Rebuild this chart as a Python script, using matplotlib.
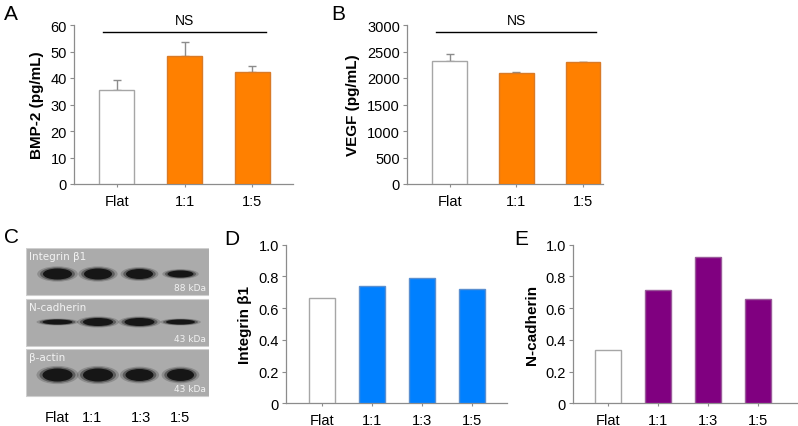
import matplotlib
matplotlib.use("Agg")
import matplotlib.pyplot as plt
from matplotlib.patches import Ellipse, Rectangle
import numpy as np

plt.rcParams["font.family"] = ["Liberation Sans", "DejaVu Sans"]
plt.rcParams["font.size"] = 10

# ---- data ----
groups3 = ["Flat", "1:1", "1:5"]
groups4 = ["Flat", "1:1", "1:3", "1:5"]

bmp2 = [35.5, 48.3, 42.3]
bmp2_err = [3.7, 5.2, 2.1]

vegf = [2330, 2090, 2298]
vegf_err = [120, 15, 12]

integrin = [0.664, 0.740, 0.790, 0.723]
ncadherin = [0.334, 0.714, 0.924, 0.656]

# blot: band thickness (px) per lane, per protein
blot_proteins = ["Integrin \u03b21", "N-cadherin", "\u03b2-actin"]
blot_kda = ["88 kDa", "43 kDa", "43 kDa"]
blot_bands = [[11, 11, 10, 7],
              [5, 8, 8, 5],
              [13, 13, 12, 12]]
blot_widths = [[29, 28, 27, 26],
               [30, 30, 30, 29],
               [30, 30, 28, 27]]

W, H = 798, 427
fig = plt.figure(figsize=(W / 100, H / 100), dpi=100)


def add_ax(x0, x1, y0, y1):
    return fig.add_axes([x0 / W, 1 - y1 / H, (x1 - x0) / W, (y1 - y0) / H])


AXC = "#8c8c8c"


def style(ax):
    for s in ["top", "right"]:
        ax.spines[s].set_visible(False)
    for s in ["left", "bottom"]:
        ax.spines[s].set_color(AXC)
        ax.spines[s].set_linewidth(0.9)
    ax.tick_params(axis="both", colors=AXC, labelcolor="black", length=3, width=0.8, labelsize=10.5)
    ax.tick_params(axis="y", pad=2)
    ax.tick_params(axis="x", length=2, pad=5)


def bars(ax, labels, vals, color, edge, err=None):
    x = np.arange(len(labels))
    fc = ["white"] + [color] * (len(labels) - 1)
    ec = ["#a6a6a6"] + [edge] * (len(labels) - 1)
    ax.bar(x, vals, width=0.52, color=fc, edgecolor=ec, linewidth=1.0, zorder=3)
    if err is not None:
        ax.errorbar(x, vals, yerr=[np.zeros(len(vals)), err], fmt="none",
                    ecolor="#8c8c8c", elinewidth=1.0, capsize=3, capthick=1.0, zorder=2)
    ax.set_xticks(x)
    ax.set_xticklabels(labels)


# A
axA = add_ax(74, 293, 26, 185)
bars(axA, groups3, bmp2, "#ff8000", "#d97a26", bmp2_err)
axA.set_xlim(-0.63, 2.6)
axA.set_ylim(0, 60)
axA.set_yticks(range(0, 61, 10))
axA.set_ylabel("BMP-2 (pg/mL)", fontweight="bold", fontsize=11, labelpad=5)
style(axA)
axA.plot([-0.2, 2.2], [57.2, 57.2], color="black", lw=1, clip_on=False)
axA.text(1.0, 59.3, "NS", ha="center", va="bottom", fontsize=10)

# B
axB = add_ax(407, 603, 26, 185)
bars(axB, groups3, vegf, "#ff8000", "#d97a26", vegf_err)
axB.set_xlim(-0.64, 2.3)
axB.set_ylim(0, 3000)
axB.set_yticks(range(0, 3001, 500))
axB.set_ylabel("VEGF (pg/mL)", fontweight="bold", fontsize=11, labelpad=5)
style(axB)
axB.plot([-0.2, 2.2], [2860, 2860], color="black", lw=1, clip_on=False)
axB.text(1.0, 2965, "NS", ha="center", va="bottom", fontsize=10)

# D
axD = add_ax(286, 507, 245.7, 404.3)
bars(axD, groups4, integrin, "#0080ff", "#5a8fd0")
axD.set_xlim(-0.72, 3.7)
axD.set_ylim(0, 1.0)
axD.set_yticks([0, 0.2, 0.4, 0.6, 0.8, 1.0])
axD.set_yticklabels(["0", "0.2", "0.4", "0.6", "0.8", "1.0"])
axD.set_ylabel("Integrin \u03b21", fontweight="bold", fontsize=11, labelpad=5)
style(axD)

# E
axE = add_ax(573, 797, 245.7, 404.3)
bars(axE, groups4, ncadherin, "#800080", "#9a5a9a")
axE.set_xlim(-0.7, 3.78)
axE.set_ylim(0, 1.0)
axE.set_yticks([0, 0.2, 0.4, 0.6, 0.8, 1.0])
axE.set_yticklabels(["0", "0.2", "0.4", "0.6", "0.8", "1.0"])
axE.set_ylabel("N-cadherin", fontweight="bold", fontsize=11, labelpad=5)
style(axE)

# C: western blot (drawn in pixel coordinates of its own axes)
axC = add_ax(26, 209, 249, 425)
axC.set_xlim(0, 183)
axC.set_ylim(176, 0)
axC.axis("off")
panel_tops = [0, 51, 101]
panel_h = 47
lane_x = [31.5, 72, 113.5, 154.5]
band_y = [26, 23, 26]
for i, top in enumerate(panel_tops):
    axC.add_patch(Rectangle((0, top), 183, panel_h, facecolor="#ababab",
                            edgecolor="#cfcfcf", lw=0.8))
    for j, lx in enumerate(lane_x):
        h = blot_bands[i][j]
        w = blot_widths[i][j]
        for k, a in zip([1.4, 1.2, 1.0], [0.2, 0.4, 1.0]):
            axC.add_patch(Ellipse((lx, top + band_y[i]), w * k, h * k,
                                  facecolor="#161616", edgecolor="none", alpha=a))
    axC.text(3, top + 3, blot_proteins[i], color="#f2f2f2", fontsize=7.5,
             family="DejaVu Sans", ha="left", va="top")
    axC.text(180, top + panel_h - 3, blot_kda[i], color="#f2f2f2", fontsize=6.5,
             family="DejaVu Sans", ha="right", va="bottom")
for lx, lab in zip([31, 66, 115, 154], groups4):
    axC.text(lx, 169, lab, ha="center", va="center", fontsize=10.5)

# panel letters
for lab, x, y in [("A", 4, 15), ("B", 331, 15), ("C", 4, 238), ("D", 224, 240), ("E", 514, 240)]:
    fig.text(x / W, 1 - y / H, lab, fontsize=15, ha="left", va="center")

fig.savefig("out.png", dpi=100)
